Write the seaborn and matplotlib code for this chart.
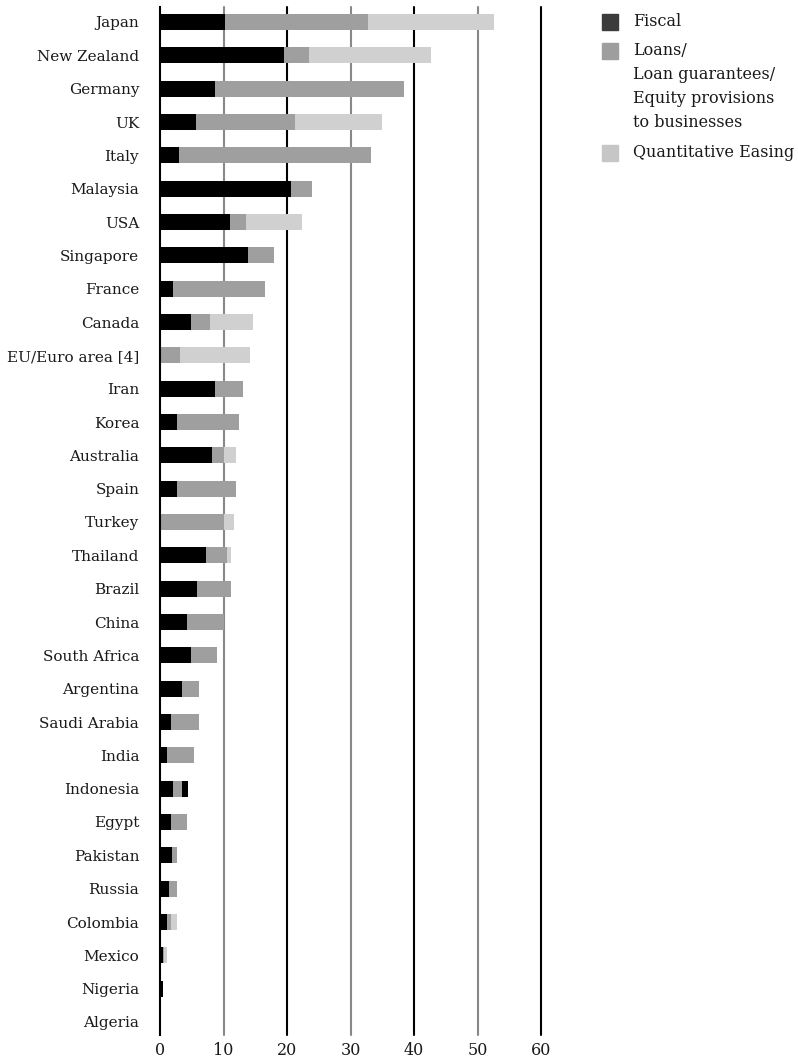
import numpy as np
import pandas as pd
import matplotlib
matplotlib.use("Agg")
import matplotlib.pyplot as plt
from matplotlib.patches import Rectangle
import seaborn as sns

countries = ["Japan", "New Zealand", "Germany", "UK", "Italy", "Malaysia", "USA",
             "Singapore", "France", "Canada", "EU/Euro area [4]", "Iran", "Korea",
             "Australia", "Spain", "Turkey", "Thailand", "Brazil", "China",
             "South Africa", "Argentina", "Saudi Arabia", "India", "Indonesia",
             "Egypt", "Pakistan", "Russia", "Colombia", "Mexico", "Nigeria", "Algeria"]

fiscal = [10.3, 19.6, 8.6, 5.6, 3.0, 20.6, 11.1, 13.9, 2.1, 4.9, 0.0, 8.6, 2.6,
          8.2, 2.6, 0.0, 7.3, 5.9, 4.3, 4.9, 3.5, 1.7, 1.05, 2.1, 1.7, 1.85,
          1.4, 1.05, 0.45, 0.45, 0.0]
loans = [22.4, 3.9, 29.9, 15.6, 30.2, 3.3, 2.5, 4.1, 14.5, 3.0, 3.2, 4.4, 9.8,
         1.8, 9.3, 10.0, 3.2, 5.3, 5.8, 4.0, 2.7, 4.4, 4.35, 1.4, 2.5, 0.9,
         1.2, 0.65, 0.2, 0.0, 0.0]
qe = [19.9, 19.1, 0.0, 13.7, 0.0, 0.0, 8.7, 0.0, 0.0, 6.7, 10.9, 0.0, 0.0,
      1.9, 0.0, 1.6, 0.7, 0.0, 0.0, 0.0, 0.0, 0.0, 0.0, 0.0, 0.0, 0.0,
      0.0, 0.9, 0.5, 0.0, 0.0]
# Indonesia has an extra fiscal piece drawn after the loans segment
extra = [0.0] * 23 + [0.95] + [0.0] * 7

legend_labels = ["Fiscal",
                 "Loans/\nLoan guarantees/\nEquity provisions\nto businesses",
                 "Quantitative Easing"]
legend_colors = ["#3c3c3c", "#9e9e9e", "#c6c6c6"]

df = pd.DataFrame({"country": countries, "fiscal": fiscal, "loans": loans,
                   "qe": qe, "extra": extra})
df["c1"] = df["fiscal"]
df["c2"] = df["c1"] + df["loans"]
df["c3"] = df["c2"] + df["qe"]
df["c4"] = df["c3"] + df["extra"]

sns.set_theme(style="white")
plt.rcParams["font.family"] = ["DejaVu Serif"]

W, H = 798, 1062
fig = plt.figure(figsize=(W / 100, H / 100), dpi=100)
ax = fig.add_axes([160 / W, 27 / H, 381 / W, 1028 / H])

# stacked look: draw cumulative totals from the outside in
layers = [("c4", "#000000"), ("c3", "#d0d0d0"), ("c2", "#9f9f9f"), ("c1", "#000000")]
for col, color in layers:
    sns.barplot(data=df, x=col, y="country", color=color, width=0.48,
                linewidth=0, saturation=1, ax=ax, zorder=3)

ax.set_xlim(0, 60)
ax.set_ylim(30.39, -0.45)
ticks = [0, 10, 20, 30, 40, 50, 60]
grid_colors = ["#000000", "#888888"]
for i, t in enumerate(ticks[1:]):
    ax.axvline(t, color=grid_colors[(i + 1) % 2], lw=1.5, zorder=1, clip_on=False)
ax.set_xticks(ticks)
for s in ["top", "right", "bottom"]:
    ax.spines[s].set_visible(False)
ax.spines["left"].set_color("#000000")
ax.spines["left"].set_linewidth(1.5)
ax.spines["left"].set_zorder(5)
ax.set_xlabel("")
ax.set_ylabel("")
ax.tick_params(axis="y", length=0, pad=15, labelsize=11, colors="#1a1a1a")
ax.tick_params(axis="x", length=0, pad=5, labelsize=11.5, colors="#1a1a1a")

# legend, square lined up with the first line of each label
legend_y = [22, 51, 153]
for lab, col, y in zip(legend_labels, legend_colors, legend_y):
    fig.patches.append(Rectangle((602 / W, 1 - (y + 8) / H), 16 / W, 16 / H,
                                 transform=fig.transFigure, color=col))
    fig.text(633 / W, 1 - (y - 9) / H, lab, ha="left", va="top", fontsize=11.5,
             color="#1a1a1a", linespacing=1.55)

fig.savefig("out.png", dpi=100)
